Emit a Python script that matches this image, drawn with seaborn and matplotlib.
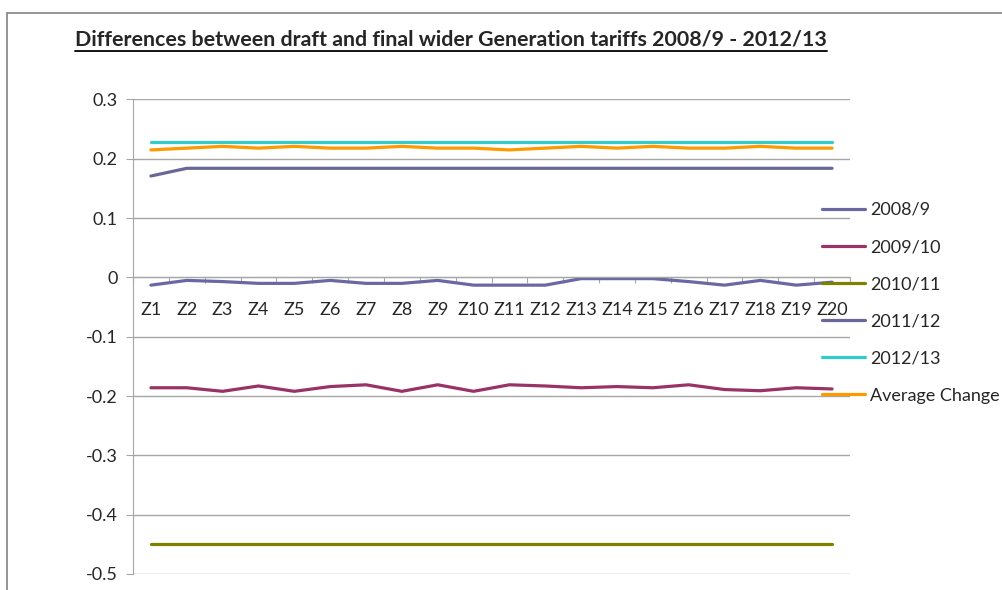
import numpy as np
import pandas as pd
import matplotlib
matplotlib.use("Agg")
import matplotlib.pyplot as plt
import seaborn as sns
from matplotlib.lines import Line2D

zones = ["Z%d" % i for i in range(1, 21)]
series_names = ["2008/9", "2009/10", "2010/11", "2011/12", "2012/13", "Average Change"]

vals_2008 = [-0.013, -0.005, -0.007, -0.010, -0.010, -0.005, -0.010, -0.010, -0.005, -0.013,
             -0.013, -0.013, -0.002, -0.002, -0.002, -0.007, -0.013, -0.005, -0.013, -0.008]
vals_2009 = [-0.186, -0.186, -0.192, -0.183, -0.192, -0.184, -0.181, -0.192, -0.181, -0.192,
             -0.181, -0.183, -0.186, -0.184, -0.186, -0.181, -0.189, -0.191, -0.186, -0.188]
vals_2010 = [-0.45] * 20
vals_2011 = [0.171] + [0.184] * 19
vals_2012 = [0.228] * 20
vals_avg = [0.215, 0.218, 0.221, 0.218, 0.221, 0.218, 0.218, 0.221, 0.218, 0.218,
            0.215, 0.218, 0.221, 0.218, 0.221, 0.218, 0.218, 0.221, 0.218, 0.218]

colors = ["#6a68a2", "#993366", "#808000", "#686898", "#33cccc", "#ff9900"]
yticks = [0.3, 0.2, 0.1, 0, -0.1, -0.2, -0.3, -0.4, -0.5]
ytick_labels = ["0.3", "0.2", "0.1", "0", "-0.1", "-0.2", "-0.3", "-0.4", "-0.5"]

all_vals = [vals_2008, vals_2009, vals_2010, vals_2011, vals_2012, vals_avg]
df = pd.DataFrame({
    "zone": zones * len(series_names),
    "series": np.repeat(series_names, len(zones)),
    "value": np.concatenate(all_vals),
})

sns.set_style("white")
plt.rcParams["font.family"] = ["Lato", "DejaVu Sans"]

W, H = 1002, 590
fig = plt.figure(figsize=(W / 100, H / 100), dpi=100)
ax = fig.add_axes([133 / W, 1 - 574 / H, (850 - 133) / W, (574 - 99.5) / H])

palette = dict(zip(series_names, colors))
sns.lineplot(data=df, x="zone", y="value", hue="series", hue_order=series_names,
             palette=palette, linewidth=2.3, ax=ax, legend=False, sort=False)

ax.set_xlim(-0.5, 19.5)
ax.set_ylim(-0.5, 0.3)
ax.set_yticks(yticks)
ax.set_yticklabels(ytick_labels)
ax.grid(axis="y", color="#a6a6a6", linewidth=1)
ax.set_axisbelow(True)
ax.set_xlabel("")
ax.set_ylabel("")

# x axis crosses at zero, ticks on category boundaries, labels at centres
ax.spines["bottom"].set_position(("data", 0))
ax.spines["bottom"].set_color("#a6a6a6")
ax.spines["left"].set_color("#a6a6a6")
ax.spines["top"].set_visible(False)
ax.spines["right"].set_visible(False)
ax.set_xticks(np.arange(-0.5, 20, 1))
ax.set_xticklabels([])
ax.set_xticks(np.arange(20), minor=True)
ax.set_xticklabels(zones, minor=True)
ax.tick_params(axis="x", which="major", direction="out", length=4, color="#a6a6a6")
ax.tick_params(axis="x", which="minor", length=0, pad=18, labelsize=13)
ax.tick_params(axis="y", direction="out", length=5, color="#a6a6a6", pad=6, labelsize=13)
ax.tick_params(left=True, bottom=True)

handles = [Line2D([], [], color=c, lw=2.3) for c in colors]
fig.legend(handles, series_names, loc="upper left", bbox_to_anchor=(822 / W, 1 - 202 / H),
           frameon=False, fontsize=13, handlelength=2.4, handletextpad=0.28,
           labelspacing=1.17, borderaxespad=0, borderpad=0)

title = fig.text(451 / W, 1 - 40 / H, "Differences between draft and final wider Generation tariffs 2008/9 - 2012/13",
                 ha="center", va="center", fontsize=15.4, fontweight="bold")

# outer chart border (cut off at right and bottom)
fig.add_artist(Line2D([7 / W, 7 / W], [0, 1 - 13 / H], color="#8c8c8c", lw=1.3))
fig.add_artist(Line2D([7 / W, 1], [1 - 13 / H, 1 - 13 / H], color="#8c8c8c", lw=1.3))

# underline the title
fig.canvas.draw()
bb = title.get_window_extent(fig.canvas.get_renderer())
uy = (bb.y0 - 1) / H
fig.add_artist(Line2D([bb.x0 / W, bb.x1 / W], [uy, uy], color="black", lw=1.3))

fig.savefig("out.png", dpi=100)
